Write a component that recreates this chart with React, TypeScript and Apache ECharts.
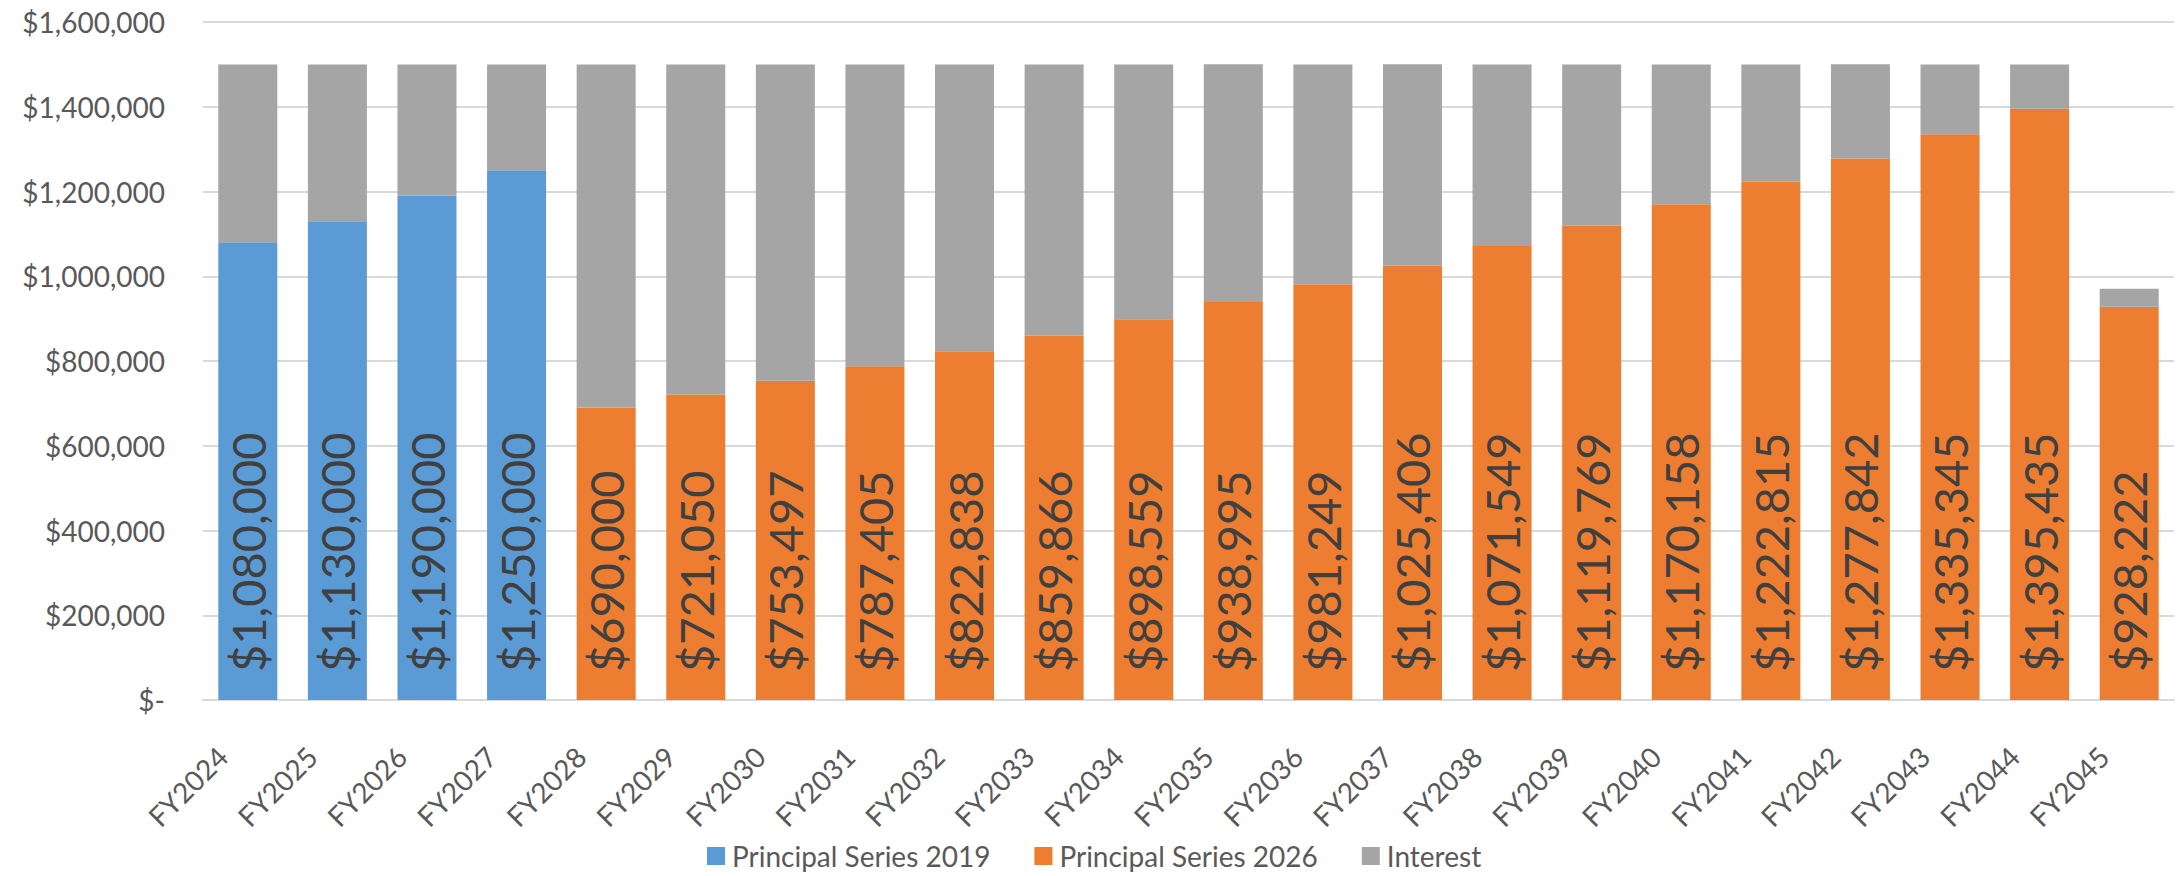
import React, { useEffect, useRef } from "react";
import * as echarts from "echarts";

const categories = [
  "FY2024", "FY2025", "FY2026", "FY2027", "FY2028", "FY2029", "FY2030", "FY2031",
  "FY2032", "FY2033", "FY2034", "FY2035", "FY2036", "FY2037", "FY2038", "FY2039",
  "FY2040", "FY2041", "FY2042", "FY2043", "FY2044", "FY2045",
];

const principal2019 = [
  1080000, 1130000, 1190000, 1250000, null, null, null, null,
  null, null, null, null, null, null, null, null,
  null, null, null, null, null, null,
];

const principal2026 = [
  null, null, null, null, 690000, 721050, 753497, 787405,
  822838, 859866, 898559, 938995, 981249, 1025406, 1071549, 1119769,
  1170158, 1222815, 1277842, 1335345, 1395435, 928222,
];

const interest = [
  420000, 370000, 310000, 250000, 810000, 778950, 746503, 712595,
  677162, 640134, 601441, 561005, 518751, 474594, 428451, 380231,
  329842, 277185, 222158, 164655, 104565, 42000,
];

const yTicks = { min: 0, max: 1600000, interval: 200000 };

const FONT = "Lato, 'Open Sans', sans-serif";
const TEXT = "#595959";

function money(v: number): string {
  if (v === 0) return "$-";
  return "$" + Math.round(v).toLocaleString("en-US");
}

export default function App() {
  const ref = useRef<HTMLDivElement>(null);

  useEffect(() => {
    document.body.style.margin = "0";
    if (!ref.current) return;
    const chart = echarts.init(ref.current, undefined, { renderer: "svg" });

    const barLabel = {
      show: true,
      position: "insideBottom",
      distance: 28,
      rotate: 90,
      align: "left",
      verticalAlign: "middle",
      fontFamily: FONT,
      fontSize: 47,
      color: "#404040",
      formatter: (p: any) => money(p.value),
    };

    chart.setOption({
      animation: false,
      textStyle: { fontFamily: FONT },
      grid: { left: 203, right: 2, top: 22, bottom: 176, containLabel: false },
      legend: {
        left: 702,
        top: 837,
        itemWidth: 18,
        itemHeight: 18,
        itemGap: 44,
        icon: "rect",
        textStyle: { fontFamily: FONT, fontSize: 28, color: TEXT, padding: [0, 0, 0, 2] },
        data: ["Principal Series 2019", "Principal Series 2026", "Interest"],
      },
      xAxis: {
        type: "category",
        data: categories,
        axisLine: { lineStyle: { color: "#d9d9d9", width: 2 } },
        axisTick: { show: false },
        axisLabel: {
          rotate: 45,
          margin: 26,
          fontFamily: FONT,
          fontSize: 28,
          color: TEXT,
          interval: 0,
          padding: [0, 36, 0, 0],
        },
      },
      yAxis: {
        type: "value",
        min: yTicks.min,
        max: yTicks.max,
        interval: yTicks.interval,
        axisLine: { show: false },
        axisTick: { show: false },
        splitLine: { lineStyle: { color: "#d9d9d9", width: 2 } },
        axisLabel: {
          margin: 38,
          fontFamily: FONT,
          fontSize: 28,
          color: TEXT,
          formatter: (v: number) => money(v),
        },
      },
      series: [
        {
          name: "Principal Series 2019",
          type: "bar",
          stack: "total",
          barWidth: 59,
          data: principal2019,
          itemStyle: { color: "#5B9BD5" },
          label: barLabel,
        },
        {
          name: "Principal Series 2026",
          type: "bar",
          stack: "total",
          barWidth: 59,
          data: principal2026,
          itemStyle: { color: "#ED7D31" },
          label: barLabel,
        },
        {
          name: "Interest",
          type: "bar",
          stack: "total",
          barWidth: 59,
          data: interest,
          itemStyle: { color: "#A5A5A5" },
        },
      ],
    });

    return () => chart.dispose();
  }, []);

  return (
    <div
      ref={ref}
      style={{ position: "absolute", left: 0, top: 0, width: 2176, height: 876 }}
    />
  );
}
